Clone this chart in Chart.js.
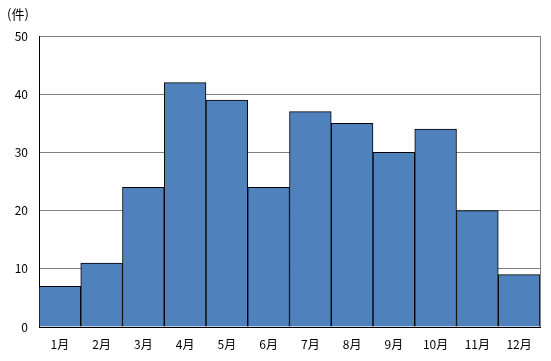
<!DOCTYPE html>
<html>
<head>
<meta charset="utf-8">
<script src="https://cdn.jsdelivr.net/npm/chart.js@4"></script>
<style>
    body { margin: 0; background: #fff; }
</style>
</head>
<body>
<canvas id="myChart" width="551" height="361"></canvas>
<script>
const months = ["1月", "2月", "3月", "4月", "5月", "6月", "7月", "8月", "9月", "10月", "11月", "12月"];
const counts = [7, 11, 24, 42, 39, 24, 37, 35, 30, 34, 20, 9];
const unitLabel = "(件)";
const FONT = "'Noto Sans CJK JP', 'DejaVu Sans', sans-serif";

// draws the unit label and the gray right border of the plot area
const frame = {
    id: "frame",
    afterDraw(chart) {
        const ctx = chart.ctx;
        const area = chart.chartArea;
        ctx.save();
        ctx.strokeStyle = "#808080";
        ctx.lineWidth = 1;
        ctx.beginPath();
        ctx.moveTo(area.right + 0.5, area.top);
        ctx.lineTo(area.right + 0.5, area.bottom);
        ctx.stroke();
        ctx.fillStyle = "#000";
        ctx.font = "13px " + FONT;
        ctx.textBaseline = "middle";
        ctx.fillText(unitLabel, 7, 14);
        ctx.restore();
    }
};

const ctx = document.getElementById("myChart").getContext("2d");
const chart = new Chart(ctx, {
    type: "bar",
    data: {
        labels: months,
        datasets: [{
            data: counts,
            backgroundColor: "#4F81BD",
            borderColor: "#000",
            borderWidth: 1,
            barPercentage: 1,
            categoryPercentage: 1
        }]
    },
    options: {
        responsive: false,
        animation: false,
        layout: { padding: { top: 36, right: 11, left: 0, bottom: 0 } },
        plugins: { legend: { display: false }, tooltip: { enabled: false } },
        scales: {
            x: {
                grid: { display: false, drawTicks: false },
                border: { color: "#000", width: 1 },
                ticks: { color: "#000", font: { size: 12, family: FONT }, padding: 10 },
                afterFit(scale) { scale.height = 34; }
            },
            y: {
                min: 0,
                max: 50,
                grid: { color: "#808080", drawTicks: false },
                border: { color: "#000", width: 1 },
                ticks: { stepSize: 10, color: "#000", font: { size: 12, family: FONT }, padding: 11 },
                afterFit(scale) { scale.width = 39; }
            }
        }
    },
    plugins: [frame]
});
</script>
</body>
</html>
